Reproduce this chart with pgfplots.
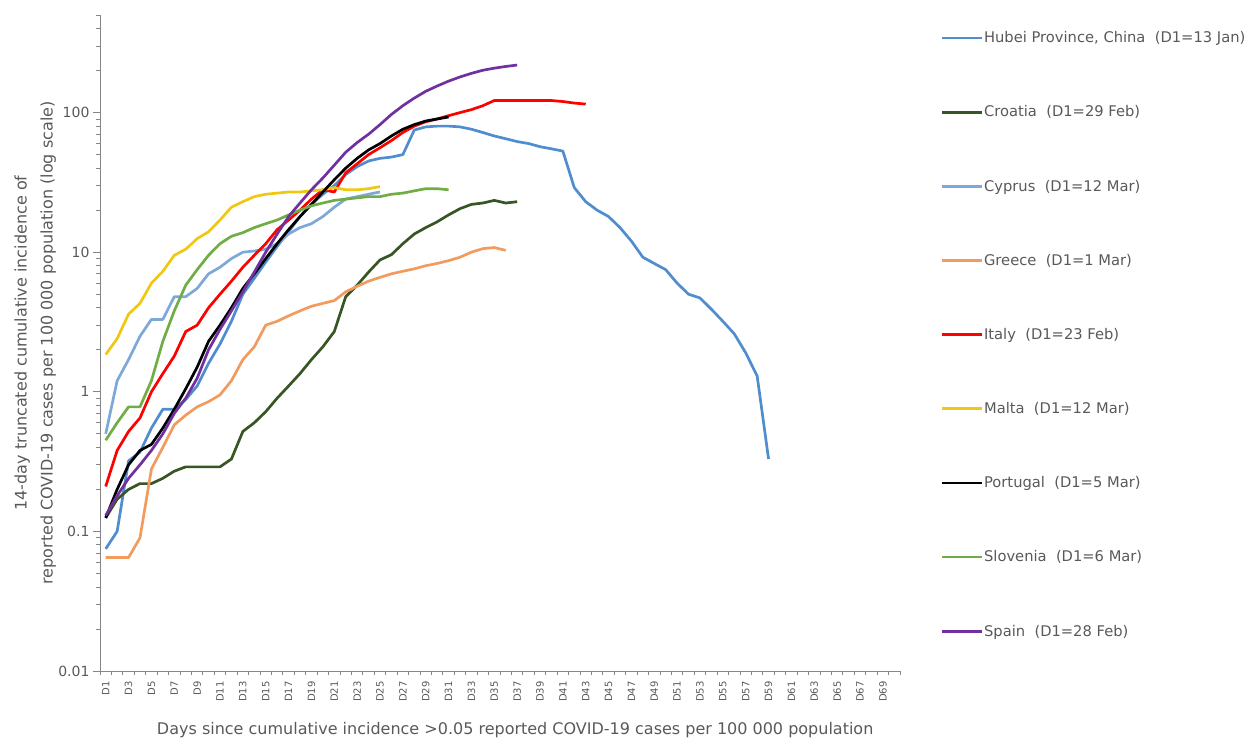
\documentclass[border=0pt]{standalone}
\usepackage{fontspec}
\setmainfont{DejaVu Sans}
\usepackage{pgfplots}
\pgfplotsset{compat=1.18}
\definecolor{cHubei}{RGB}{80,141,206}
\definecolor{cCroatia}{RGB}{55,86,35}
\definecolor{cCyprus}{RGB}{125,168,215}
\definecolor{cGreece}{RGB}{241,155,95}
\definecolor{cItaly}{RGB}{255,0,0}
\definecolor{cMalta}{RGB}{240,200,20}
\definecolor{cPortugal}{RGB}{0,0,0}
\definecolor{cSlovenia}{RGB}{112,173,71}
\definecolor{cSpain}{RGB}{112,48,160}
\definecolor{axgray}{RGB}{134,134,134}
\definecolor{txgray}{RGB}{89,89,89}
\begin{document}
\begin{tikzpicture}
\useasboundingbox (-100pt,-69pt) rectangle (1152pt,671pt);
\begin{axis}[
  scale only axis, width=800pt, height=656pt,
  at={(0,0)}, anchor=south west,
  ymode=log, ymin=0.01, ymax=500, xmin=0.5, xmax=70.5,
  axis x line=bottom, axis y line=left,
  axis line style={draw=axgray, line width=0.9pt, -},
  tick align=outside, major tick length=7pt, minor tick length=4pt,
  tick style={draw=axgray, line width=0.9pt},
  ytick={0.01,0.1,1,10,100},
  yticklabels={0.01,0.1,1,10,100},
  minor ytick={0.02,0.03,0.04,0.05,0.06,0.07,0.08,0.09,0.2,0.3,0.4,0.5,0.6,0.7,0.8,0.9,2,3,4,5,6,7,8,9,20,30,40,50,60,70,80,90,200,300,400,500},
  yticklabel style={font=\fontsize{14}{16}\selectfont, text=txgray},
  xtick={1,3,...,69},
  xticklabels={D1,D3,D5,D7,D9,D11,D13,D15,D17,D19,D21,D23,D25,D27,D29,D31,D33,D35,D37,D39,D41,D43,D45,D47,D49,D51,D53,D55,D57,D59,D61,D63,D65,D67,D69},
  minor xtick={0.5,1.5,...,70.5},
  major x tick style={draw=none},
  xticklabel style={font=\fontsize{10}{12}\selectfont, text=txgray, rotate=90, anchor=east},
  xlabel={Days since cumulative incidence >0.05 reported COVID-19 cases per 100 000 population},
  xlabel style={at={(axis description cs:0.519,-0.09)}, anchor=center, font=\fontsize{16}{19}\selectfont, text=txgray},
  ylabel={14-day truncated cumulative incidence of\\reported COVID-19 cases per 100 000 population (log scale)},
  ylabel style={at={(axis description cs:-0.081,0.5)}, anchor=center, align=center, font=\fontsize{16}{26}\selectfont, text=txgray},
  every axis plot/.append style={line width=2.7pt, line join=round, no markers},
  legend image code/.code={\draw[#1] (0pt,0pt) -- (40pt,0pt);},
  legend style={at={(axis description cs:1.0465,0.9795)}, anchor=north west, draw=none, fill=none,
    font=\fontsize{14.7}{17}\selectfont, text=txgray, row sep=59.5pt, column sep=0pt,
    nodes={inner sep=1pt}},
  legend cell align=left,
]
\addplot[cHubei] coordinates {(1,0.075)(2,0.10)(3,0.32)(4,0.37)(5,0.55)(6,0.75)(7,0.75)(8,0.88)(9,1.1)(10,1.6)(11,2.2)(12,3.2)(13,5.0)(14,6.5)(15,8.5)(16,11)(17,14)(18,18)(19,22)(20,26)(21,30)(22,36)(23,41)(24,45)(25,47)(26,48)(27,50)(28,75)(29,79)(30,80)(31,80)(32,79)(33,76)(34,72)(35,68)(36,65)(37,62)(38,60)(39,57)(40,55)(41,53)(42,29)(43,23)(44,20)(45,18)(46,15)(47,12)(48,9.2)(49,8.3)(50,7.5)(51,6.0)(52,5.0)(53,4.7)(54,3.9)(55,3.2)(56,2.6)(57,1.9)(58,1.3)(59,0.33)};
\addlegendentry{Hubei Province, China\ \ (D1=13 Jan)}
\addplot[cCroatia] coordinates {(1,0.125)(2,0.17)(3,0.2)(4,0.22)(5,0.22)(6,0.24)(7,0.27)(8,0.29)(9,0.29)(10,0.29)(11,0.29)(12,0.33)(13,0.52)(14,0.6)(15,0.72)(16,0.9)(17,1.1)(18,1.35)(19,1.7)(20,2.1)(21,2.7)(22,4.8)(23,5.8)(24,7.2)(25,8.8)(26,9.6)(27,11.5)(28,13.5)(29,15)(30,16.5)(31,18.5)(32,20.5)(33,22)(34,22.5)(35,23.5)(36,22.5)(37,23)};
\addlegendentry{Croatia\ \ (D1=29 Feb)}
\addplot[cCyprus] coordinates {(1,0.5)(2,1.2)(3,1.7)(4,2.5)(5,3.3)(6,3.3)(7,4.8)(8,4.8)(9,5.5)(10,7)(11,7.8)(12,9)(13,10)(14,10.2)(15,10.5)(16,11.5)(17,13.5)(18,15)(19,16)(20,18)(21,21)(22,24)(23,25)(24,26)(25,27)};
\addlegendentry{Cyprus\ \ (D1=12 Mar)}
\addplot[cGreece] coordinates {(1,0.065)(2,0.065)(3,0.065)(4,0.09)(5,0.28)(6,0.4)(7,0.58)(8,0.68)(9,0.78)(10,0.85)(11,0.95)(12,1.2)(13,1.7)(14,2.1)(15,3.0)(16,3.2)(17,3.5)(18,3.8)(19,4.1)(20,4.3)(21,4.5)(22,5.2)(23,5.7)(24,6.2)(25,6.6)(26,7.0)(27,7.3)(28,7.6)(29,8.0)(30,8.3)(31,8.7)(32,9.2)(33,10.0)(34,10.6)(35,10.8)(36,10.3)};
\addlegendentry{Greece\ \ (D1=1 Mar)}
\addplot[cItaly] coordinates {(1,0.21)(2,0.38)(3,0.52)(4,0.65)(5,1.0)(6,1.35)(7,1.8)(8,2.7)(9,3.0)(10,4.0)(11,5.0)(12,6.2)(13,7.8)(14,9.5)(15,11.5)(16,14.5)(17,17)(18,20)(19,24)(20,28)(21,27)(22,37)(23,43)(24,50)(25,56)(26,63)(27,72)(28,80)(29,86)(30,90)(31,95)(32,100)(33,105)(34,112)(35,122)(36,122)(37,122)(38,122)(39,122)(40,122)(41,120)(42,117)(43,115)};
\addlegendentry{Italy\ \ (D1=23 Feb)}
\addplot[cMalta] coordinates {(1,1.85)(2,2.4)(3,3.6)(4,4.3)(5,6)(6,7.3)(7,9.5)(8,10.5)(9,12.5)(10,14)(11,17)(12,21)(13,23)(14,25)(15,26)(16,26.5)(17,27)(18,27)(19,27.5)(20,28)(21,29)(22,28)(23,28)(24,28.5)(25,29.5)};
\addlegendentry{Malta\ \ (D1=12 Mar)}
\addplot[cPortugal] coordinates {(1,0.125)(2,0.2)(3,0.3)(4,0.38)(5,0.42)(6,0.55)(7,0.75)(8,1.05)(9,1.5)(10,2.3)(11,3.0)(12,4.0)(13,5.5)(14,7)(15,9)(16,11.5)(17,14.5)(18,18)(19,22)(20,27)(21,33)(22,40)(23,47)(24,54)(25,60)(26,68)(27,76)(28,82)(29,87)(30,90)(31,93)};
\addlegendentry{Portugal\ \ (D1=5 Mar)}
\addplot[cSlovenia] coordinates {(1,0.45)(2,0.6)(3,0.78)(4,0.78)(5,1.2)(6,2.3)(7,3.8)(8,5.8)(9,7.5)(10,9.5)(11,11.5)(12,13)(13,13.8)(14,15)(15,16)(16,17)(17,18.5)(18,20)(19,21.5)(20,22.5)(21,23.5)(22,24)(23,24.5)(24,25)(25,25)(26,26)(27,26.5)(28,27.5)(29,28.5)(30,28.5)(31,28)};
\addlegendentry{Slovenia\ \ (D1=6 Mar)}
\addplot[cSpain] coordinates {(1,0.13)(2,0.18)(3,0.24)(4,0.3)(5,0.38)(6,0.5)(7,0.7)(8,0.9)(9,1.25)(10,2.0)(11,2.8)(12,3.8)(13,5.2)(14,7.2)(15,10)(16,13.5)(17,18)(18,22.5)(19,28)(20,34)(21,42)(22,52)(23,61)(24,70)(25,82)(26,97)(27,112)(28,127)(29,142)(30,155)(31,168)(32,180)(33,191)(34,201)(35,208)(36,214)(37,219)};
\addlegendentry{Spain\ \ (D1=28 Feb)}
\end{axis}
\end{tikzpicture}
\end{document}
